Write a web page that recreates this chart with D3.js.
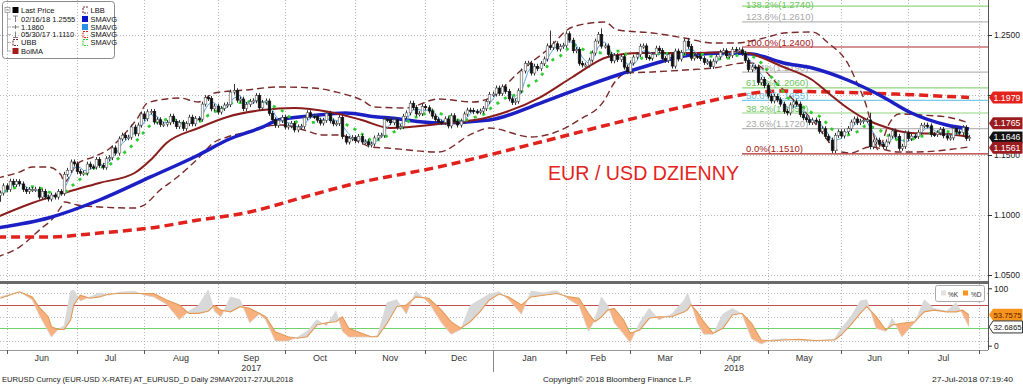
<!DOCTYPE html>
<html><head><meta charset="utf-8">
<script src="https://cdn.jsdelivr.net/npm/d3@7"></script>
<style>
html,body{margin:0;padding:0;background:#fff;}
svg{display:block;font-family:"Liberation Sans",Arial,sans-serif;}
</style></head><body>
<svg id="c" width="1023" height="384"></svg>
<script>
// ---------- DATA ----------
// daily closes, 29 May 2017 .. 27 Jul 2018 (weekdays)
const closes = [
 1.1163,1.1183,1.1243,
 1.1214,1.1281,1.1253,1.1278,1.1259,1.1213,1.1196,1.1212,1.1212,1.1215,1.1149,1.1197,1.1150,1.1133,1.1166,1.1150,1.1195,1.1181,1.1339,1.1372,1.1442,1.1426,
 1.1362,1.1348,1.1350,1.1424,1.1401,1.1400,1.1462,1.1414,1.1398,1.1469,1.1478,1.1559,1.1516,1.1634,1.1665,1.1644,1.1648,1.1733,1.1677,1.1749,1.1842,
 1.1802,1.1860,1.1863,1.1775,1.1794,1.1754,1.1757,1.1770,1.1823,1.1779,1.1737,1.1770,1.1722,1.1761,1.1815,1.1760,1.1803,1.1799,1.1924,1.1978,1.1971,1.1885,1.1907,
 1.1858,1.1888,1.1916,1.1920,1.2024,1.2036,1.1957,1.1966,1.1886,1.1921,1.1947,1.1952,1.1995,1.1893,1.1939,1.1950,1.1847,1.1794,1.1747,1.1787,1.1813,
 1.1733,1.1743,1.1763,1.1709,1.1733,1.1738,1.1810,1.1852,1.1823,1.1821,1.1790,1.1766,1.1789,1.1847,1.1785,1.1760,1.1762,1.1814,1.1653,1.1608,1.1637,1.1645,
 1.1619,1.1654,1.1608,1.1610,1.1584,1.1592,1.1642,1.1664,1.1664,1.1797,1.1794,1.1769,1.1793,1.1732,1.1736,1.1822,1.1851,1.1931,1.1895,1.1842,1.1845,1.1904,
 1.1894,1.1866,1.1824,1.1795,1.1775,1.1770,1.1801,1.1742,1.1827,1.1778,1.1750,1.1782,1.1841,1.1874,1.1872,1.1861,1.1860,1.1866,1.1887,1.1945,1.2005,
 1.2008,1.2058,1.2014,1.2068,1.2030,1.1968,1.1938,1.1948,1.2035,1.2200,1.2263,1.2264,1.2183,1.2239,1.2220,1.2262,1.2300,1.2409,1.2396,1.2427,1.2383,1.2405,1.2414,
 1.2510,1.2457,1.2369,1.2378,1.2264,1.2250,1.2250,1.2291,1.2350,1.2449,1.2505,1.2407,1.2409,1.2338,1.2285,1.2328,1.2295,1.2319,1.2232,1.2194,
 1.2266,1.2316,1.2337,1.2406,1.2409,1.2312,1.2307,1.2337,1.2390,1.2370,1.2303,1.2288,1.2336,1.2241,1.2366,1.2300,1.2353,1.2449,1.2405,1.2307,1.2324,1.2320,
 1.2303,1.2272,1.2276,1.2238,1.2282,1.2318,1.2356,1.2369,1.2327,1.2330,1.2380,1.2374,1.2376,1.2347,1.2288,1.2212,1.2234,1.2232,1.2104,1.2130,1.2078,
 1.1991,1.1951,1.1989,1.1960,1.1924,1.1864,1.1851,1.1917,1.1943,1.1925,1.1836,1.1810,1.1794,1.1771,1.1791,1.1781,1.1698,1.1719,1.1654,1.1624,1.1536,1.1663,1.1693,
 1.1659,1.1694,1.1720,1.1774,1.1800,1.1770,1.1781,1.1789,1.1792,1.1569,1.1609,1.1624,1.1589,1.1569,1.1609,1.1658,1.1700,1.1655,1.1555,1.1572,1.1684,
 1.1637,1.1657,1.1655,1.1689,1.1746,1.1749,1.1743,1.1672,1.1671,1.1685,1.1712,1.1660,1.1641,1.1643,1.1720,1.1692,1.1687,1.1728,1.1638,1.1646
];
// notable wicks (day index -> extreme)
const spikeIdx = [1, 74, 173, 189, 216, 273];
const spikeVal = [1.1110, 1.2092, 1.2537, 1.2555, 1.2476, 1.1852];

// moving averages / bands (day index, price)
const sma200Idx = [0,16,32,48,63,79,95,110,138,170,201,220,229,245,260,281,304];
const sma200Val = [1.0817,1.0817,1.0850,1.0892,1.0958,1.1025,1.1142,1.1250,1.1400,1.1608,1.1817,1.1933,1.1983,1.2033,1.2025,1.2008,1.1979];
const sma50Idx = [0,16,32,48,63,72,83,88,98,109,119,123,138,154,170,185,201,217,228,236,246,255,266,276,286,297,304];
const sma50Val = [1.0892,1.0975,1.1125,1.1317,1.1500,1.1625,1.1733,1.1792,1.1825,1.1850,1.1817,1.1808,1.1767,1.1792,1.1933,1.2083,1.2225,1.2333,1.2350,1.2342,1.2267,1.2225,1.2125,1.2000,1.1850,1.1750,1.1717];
const bolMaIdx = [0,11,22,32,43,48,53,63,72,83,93,104,114,123,138,154,170,180,191,201,217,232,246,255,260,266,271,276,286,297,304];
const bolMaVal = [1.0983,1.1100,1.1192,1.1267,1.1350,1.1458,1.1600,1.1725,1.1817,1.1875,1.1892,1.1858,1.1792,1.1725,1.1758,1.1817,1.1983,1.2150,1.2317,1.2350,1.2350,1.2358,1.2233,1.2125,1.2017,1.1892,1.1808,1.1750,1.1683,1.1675,1.1650];
const ubbIdx = [0,7,11,16,20,21,25,30,35,40,44,47,53,57,63,68,78,88,99,106,114,118,128,138,149,154,164,172,180,190,194,205,215,224,231,241,246,255,260,266,269,272,274,275.5,279,282,289,297,304];
const ubbVal = [1.1308,1.1358,1.1400,1.1400,1.1333,1.1275,1.1425,1.1483,1.1550,1.1680,1.1810,1.1933,1.1967,1.1975,1.1942,1.2017,1.2042,1.2067,1.2058,1.2025,1.1958,1.1900,1.1892,1.1967,1.1942,1.1975,1.2208,1.2375,1.2567,1.2608,1.2542,1.2517,1.2475,1.2433,1.2433,1.2483,1.2517,1.2525,1.2433,1.2267,1.2100,1.1900,1.1690,1.1545,1.1760,1.1842,1.1833,1.1817,1.1767];
const lbbIdx = [0,7,14,17,20,21,25,32,43,46,51,56,60,63,68,72,78,83,89,96,102,107,112,117,122,138,149,154,167,174,182,190,193,197,205,215,224,234,236,245,255,264,267,273,282,287,304];
const lbbVal = [1.0650,1.0733,1.0892,1.0958,1.1067,1.1108,1.1083,1.1067,1.1058,1.1083,1.1208,1.1308,1.1400,1.1475,1.1608,1.1650,1.1692,1.1733,1.1750,1.1708,1.1667,1.1667,1.1625,1.1567,1.1558,1.1525,1.1683,1.1725,1.1650,1.1683,1.1792,1.1958,1.2100,1.2183,1.2192,1.2208,1.2225,1.2267,1.2267,1.2067,1.1792,1.1525,1.1517,1.1567,1.1525,1.1525,1.1567];

// Fibonacci retracement
const fibPct = ["138.2%","123.6%","100.0%","76.4%","61.8%","50.0%","38.2%","23.6%","0.0%"];
const fibVal = [1.2740,1.2610,1.2400,1.2190,1.2060,1.1955,1.1850,1.1720,1.1510];
const fibStartIdx = 233;

// stochastic (day index, %K, %D)
const stochIdx = [1,7,11,13,16,17,19,21,23,24,26,29,32,35,38,43,46,49,53,57,60,63,66,68,70,73,76,79,82,84,87,91,94,97,100,103,106,108,110,114,117,119,122,125,128,131,135,139,142,145,148,151,154,157,160,164,167,171,175,179,182,185,187,189,191,193,196,198,201,204,207,211,215,216,217,219,221,224,227,230,233,236,239,242,246,251,256,262,264,267,270,272,275,278,280,283,287,290,293,297,300,302,304];
const stochD = [82.6,94,85,68,50.5,33,28.5,28.5,44.8,71,88,82.6,85,90,91,91,91,91,79.6,71,56.4,56.4,60,70,62,59,68,65,56.4,50.5,24.4,15.7,12.9,15.7,36,40,41.8,50.5,30.3,21.6,15.7,15.7,39,68,71,85,82.6,62,41.8,30.3,41.8,59,79.6,90,85,71,85,88,91,85,82.6,56,41.8,50,62,65,44.8,21.6,27.4,47.7,50.5,50.5,59,63,71,59,41.8,21.6,30.3,53.5,56.4,39,10,8.2,10,11,9,10,18.6,36,56.4,68,50.5,27.4,36,39,41.8,59,62,59,59,62,53.7575];
const stochK = [85,94,80,55,25,15,28,35,95,97,78,85,92,88,93,95,88,85,72,45,60,70,97,60,50,85,80,40,55,45,8,8,15,25,45,35,60,25,15,15,15,18,75,80,55,95,75,40,20,28,70,80,90,94,80,55,95,92,96,80,70,25,45,85,70,40,20,5,40,65,45,55,80,92,75,40,20,20,55,65,55,12,3,10,12,10,8,12,30,50,78,80,30,25,48,15,40,80,65,60,75,55,32.6865];
const stochLevels = [70, 30];
const stochGrid = [91, 49.5, 8];
const stochTicks = [0, 100];

// axes
const yTicks = [1.05,1.10,1.15,1.20,1.25];
const monthStarts = [3,25,46,69,90,112,134,155,178,198,220,241,264,285,307];
const monthNames = ["Jun","Jul","Aug","Sep","Oct","Nov","Dec","Jan","Feb","Mar","Apr","May","Jun","Jul"];
const yearNames = ["2017","2018"];
const yearMonthPos = [3,10];
const yearBreakIdx = 155;
const lastLabels = [1.1979,1.1765,1.1646,1.1561];

// ---------- LAYOUT ----------
const AX = 988, MAIN_B = 281, LOW_T = 284, LOW_B = 350;
const x = d3.scaleLinear().domain([0,304]).range([-2.9, -2.9 + 304*3.197]);
const y = d3.scaleLinear().domain([1.05,1.25]).range([275,35]);
const ys = d3.scaleLinear().domain([0,100]).range([345.7,288.3]);

const svg = d3.select("#c");
const defs = svg.append("defs");
defs.append("clipPath").attr("id","cm").append("rect").attr("x",0).attr("y",0).attr("width",AX).attr("height",MAIN_B);
defs.append("clipPath").attr("id","cl").append("rect").attr("x",0).attr("y",LOW_T).attr("width",AX).attr("height",LOW_B-LOW_T);

// grid
const grid = svg.append("g").attr("stroke","#b9b9b9").attr("stroke-dasharray","1,2").attr("stroke-width",1);
monthStarts.filter(m=>x(m)<AX).forEach(m=>{
  const xx = Math.round(x(m))+0.5;
  grid.append("line").attr("x1",xx).attr("x2",xx).attr("y1",0).attr("y2",MAIN_B);
  grid.append("line").attr("x1",xx).attr("x2",xx).attr("y1",LOW_T).attr("y2",LOW_B);
});
yTicks.forEach(v=>{
  const yy = Math.round(y(v))+0.5;
  grid.append("line").attr("x1",0).attr("x2",AX).attr("y1",yy).attr("y2",yy);
});
stochGrid.forEach(v=>{
  const yy = Math.round(ys(v))+0.5;
  grid.append("line").attr("x1",0).attr("x2",AX).attr("y1",yy).attr("y2",yy);
});

// main panel
const main = svg.append("g").attr("clip-path","url(#cm)");
const fibColor = ["#8fd67f","#b8b8b8","#b02a2a","#b8b8b8","#8fd67f","#7cc9e6","#8fd67f","#b8b8b8","#b02a2a"];
const fibText = ["#6cc45c","#a8a8a8","#a02020","#a8a8a8","#6cc45c","#66bbdd","#6cc45c","#a8a8a8","#a02020"];
fibVal.forEach((v,k)=>{
  main.append("line").attr("x1",x(fibStartIdx)).attr("x2",AX).attr("y1",y(v)).attr("y2",y(v))
    .attr("stroke",fibColor[k]).attr("stroke-width",1.2);
  main.append("text").attr("x",x(fibStartIdx)+4).attr("y",Math.max(7.5, y(v)-1.5)).attr("font-size",9.5)
    .attr("fill",fibText[k]).text(fibPct[k]+"("+v.toFixed(4)+")");
});

const lineIV = d3.line().x(d=>x(d[0])).y(d=>y(d[1])).curve(d3.curveMonotoneX);
const zip = (a,b)=>a.map((v,i)=>[v,b[i]]);

// bands
main.append("path").attr("d",lineIV(zip(ubbIdx,ubbVal))).attr("fill","none").attr("stroke","#7b2a2a").attr("stroke-width",1.4).attr("stroke-dasharray","7,4");
main.append("path").attr("d",lineIV(zip(lbbIdx,lbbVal))).attr("fill","none").attr("stroke","#7b2a2a").attr("stroke-width",1.4).attr("stroke-dasharray","7,4");
// 200 SMA
main.append("path").attr("d",lineIV(zip(sma200Idx,sma200Val))).attr("fill","none").attr("stroke","#e1221c").attr("stroke-width",3.5).attr("stroke-dasharray","9,5");
// 50 SMA
main.append("path").attr("d",lineIV(zip(sma50Idx,sma50Val))).attr("fill","none").attr("stroke","#1c1fc4").attr("stroke-width",3.5);
// Bol MA
main.append("path").attr("d",lineIV(zip(bolMaIdx,bolMaVal))).attr("fill","none").attr("stroke","#8b1c1c").attr("stroke-width",2);

// short SMAs from closes
function rolling(n){ return closes.map((c,i)=>[i, d3.mean(closes.slice(Math.max(0,i-n+1), i+1))]); }
main.append("path").attr("d",d3.line().x(d=>x(d[0])).y(d=>y(d[1])).curve(d3.curveMonotoneX)(rolling(10))).attr("fill","none").attr("stroke","#2ecc2e").attr("stroke-width",2.8).attr("stroke-dasharray","3,6");
main.append("path").attr("d",d3.line().x(d=>x(d[0])).y(d=>y(d[1]))(rolling(4))).attr("fill","none").attr("stroke","#5aaae6").attr("stroke-width",1);

// candles
const cg = main.append("g");
closes.forEach((c,i)=>{
  const o = i>0 ? closes[i-1] : c;
  const hi = Math.max(o,c), lo = Math.min(o,c);
  const k = spikeIdx.indexOf(i);
  let top = y(hi)-2.5, bot = y(lo)+2.5;
  if(k>=0){ const s=spikeVal[k]; if(s>hi) top=y(s); else bot=y(s); }
  const cx = Math.round(x(i))+0.5;
  cg.append("line").attr("x1",cx).attr("x2",cx).attr("y1",top).attr("y2",bot).attr("stroke","#333").attr("stroke-width",1);
  const h = Math.max(1.2, y(lo)-y(hi));
  cg.append("rect").attr("x",cx-1.3).attr("y",y(hi)).attr("width",2.6).attr("height",h)
    .attr("fill", c>=o ? "#ffffff" : "#111").attr("stroke", c>=o ? "#555" : "#111").attr("stroke-width",0.6);
});

// title
svg.append("text").attr("x",548).attr("y",180).attr("font-size",21).attr("fill","#e3241c")
  .attr("textLength",191).attr("lengthAdjust","spacingAndGlyphs").text("EUR / USD DZIENNY");

// separator
svg.append("rect").attr("x",0).attr("y",281).attr("width",AX).attr("height",3).attr("fill","#6a6a6a");

// lower panel
const low = svg.append("g").attr("clip-path","url(#cl)");
stochLevels.forEach((v,k)=>{
  low.append("line").attr("x1",0).attr("x2",AX).attr("y1",ys(v)).attr("y2",ys(v))
    .attr("stroke", k===0 ? "#c0504d" : "#6fd26f").attr("stroke-width",1.2);
});
const sdat = stochIdx.map((d,i)=>({i:d,k:stochK[i],d:stochD[i]}));
defs.append("clipPath").attr("id","cAbove").append("path")
  .attr("d", d3.area().x(d=>x(d.i)).y0(LOW_T).y1(d=>ys(d.d))(sdat));
defs.append("clipPath").attr("id","cBelow").append("path")
  .attr("d", d3.area().x(d=>x(d.i)).y0(LOW_B).y1(d=>ys(d.d))(sdat));
const between = d3.area().x(d=>x(d.i)).y0(d=>ys(d.k)).y1(d=>ys(d.d));
low.append("g").attr("clip-path","url(#cAbove)").append("path").attr("d",between(sdat)).attr("fill","#d8d8d8");
low.append("g").attr("clip-path","url(#cBelow)").append("path").attr("d",between(sdat)).attr("fill","#f8b07e");
low.append("path").attr("d",d3.line().x(d=>x(d.i)).y(d=>ys(d.k))(sdat)).attr("fill","none").attr("stroke","#d4d4d4").attr("stroke-width",0.7);
low.append("path").attr("d",d3.line().x(d=>x(d.i)).y(d=>ys(d.d))(sdat)).attr("fill","none").attr("stroke","#e39a55").attr("stroke-width",1.1);

// lower legend
const lg2 = svg.append("g");
lg2.append("rect").attr("x",935.5).attr("y",285.5).attr("width",49).attr("height",16).attr("rx",2).attr("fill","#fff").attr("stroke","#aaa");
lg2.append("rect").attr("x",941).attr("y",290.5).attr("width",5).attr("height",5).attr("fill","#e2e2e2");
lg2.append("text").attr("x",948).attr("y",296.5).attr("font-size",6.5).attr("fill","#333").text("%K");
lg2.append("rect").attr("x",963).attr("y",290.5).attr("width",5).attr("height",5).attr("fill","#f7941d");
lg2.append("text").attr("x",971).attr("y",296.5).attr("font-size",6.5).attr("fill","#333").text("%D");

// right axes
svg.append("line").attr("x1",AX+0.5).attr("x2",AX+0.5).attr("y1",0).attr("y2",LOW_B).attr("stroke","#555").attr("stroke-width",1);
const ya = svg.append("g").attr("transform",`translate(${AX},0)`)
  .call(d3.axisRight(y).tickValues(yTicks).tickFormat(d3.format(".4f")).tickSize(4).tickPadding(2));
ya.select(".domain").remove();
ya.selectAll("text").attr("font-size",8.5).attr("fill","#222").attr("font-family","Liberation Sans, Arial, sans-serif");
ya.selectAll("line").attr("stroke","#333");
const ya2 = svg.append("g").attr("transform",`translate(${AX},0)`)
  .call(d3.axisRight(ys).tickValues(stochTicks).tickFormat(d3.format("d")).tickSize(4).tickPadding(2));
ya2.select(".domain").remove();
ya2.selectAll("text").attr("font-size",8.5).attr("fill","#222").attr("font-family","Liberation Sans, Arial, sans-serif");
ya2.selectAll("line").attr("stroke","#333");

// last-value labels
function tag(yy, txt, fill, stroke, tc, fs, tl){
  const gg = svg.append("g");
  gg.append("path").attr("d",`M${AX+1},${yy} L${AX+5},${yy-6} L1022.5,${yy-6} L1022.5,${yy+6} L${AX+5},${yy+6} Z`)
    .attr("fill",fill).attr("stroke",stroke).attr("stroke-width",stroke==="none"?0:1);
  gg.append("text").attr("x",AX+5.5).attr("y",yy+3).attr("font-size",fs).attr("fill",tc)
    .attr("textLength",tl).attr("lengthAdjust","spacingAndGlyphs").text(txt);
}
const tagFill = ["#e3221c","#9b1c1f","#111111","#9b1c1f"];
lastLabels.forEach((v,k)=>tag(y(v), v.toFixed(4), tagFill[k], "none", "#fff", 8.5, 27));
tag(ys(stochD[stochD.length-1]), stochD[stochD.length-1].toFixed(4), "#f7941d", "none", "#5a1a00", 7.6, 28);
tag(ys(stochK[stochK.length-1]), stochK[stochK.length-1].toFixed(4), "#ffffff", "#333", "#111", 7.6, 28);

// x axis
const xa = svg.append("g");
xa.append("line").attr("x1",0).attr("x2",AX).attr("y1",LOW_B+0.5).attr("y2",LOW_B+0.5).attr("stroke","#999");
monthStarts.forEach(m=>{
  if(x(m)>AX) return;
  const xx = Math.round(x(m))+0.5;
  xa.append("line").attr("x1",xx).attr("x2",xx).attr("y1",LOW_B).attr("y2",LOW_B+4).attr("stroke","#555");
});
{
  const xx = Math.round(x(yearBreakIdx))+0.5;
  xa.append("line").attr("x1",xx).attr("x2",xx).attr("y1",LOW_B).attr("y2",LOW_B+22).attr("stroke","#888");
}
monthNames.forEach((n,k)=>{
  const cx = (x(monthStarts[k])+x(monthStarts[k+1]))/2;
  xa.append("text").attr("x",cx).attr("y",361).attr("text-anchor","middle").attr("font-size",9).attr("fill","#333").text(n);
});
yearNames.forEach((n,k)=>{
  const m = yearMonthPos[k];
  const cx = (x(monthStarts[m])+x(monthStarts[m+1]))/2;
  xa.append("text").attr("x",cx).attr("y",371).attr("text-anchor","middle").attr("font-size",9).attr("fill","#333").text(n);
});

// footer
svg.append("text").attr("x",2).attr("y",381.5).attr("font-size",8).attr("fill","#222")
  .attr("textLength",291).attr("lengthAdjust","spacingAndGlyphs")
  .text("EURUSD Curncy (EUR-USD X-RATE) AT_EURUSD_D  Daily 29MAY2017-27JUL2018");
svg.append("text").attr("x",543).attr("y",381.5).attr("font-size",8).attr("fill","#222")
  .attr("textLength",149).attr("lengthAdjust","spacingAndGlyphs").text("Copyright\u00A9 2018 Bloomberg Finance L.P.");
svg.append("text").attr("x",932).attr("y",381.5).attr("font-size",8).attr("fill","#222")
  .attr("textLength",81).attr("lengthAdjust","spacingAndGlyphs").text("27-Jul-2018 07:19:40");

// top-left legend
const lg = svg.append("g").attr("font-size",7.5).attr("fill","#111");
lg.append("rect").attr("x",2.5).attr("y",1.5).attr("width",112).attr("height",57).attr("rx",3)
  .attr("fill","none").attr("stroke","#8a8a8a").attr("stroke-width",1);
const rows = [10,19,27,34.5,42.5,51];
const leftTxt = ["Last Price","02/16/18 1.2555","1.1860","05/30/17 1.1110","UBB","BolMA"];
const rightTxt = ["LBB","SMAVG","SMAVG","SMAVG","SMAVG"];
leftTxt.forEach((t,k)=>lg.append("text").attr("x",21).attr("y",rows[k]+2.7).text(t));
rightTxt.forEach((t,k)=>lg.append("text").attr("x",90.5).attr("y",rows[k]+2.7).text(t));
// tree
lg.append("rect").attr("x",5).attr("y",rows[0]-2.5).attr("width",5).attr("height",5).attr("fill","none").attr("stroke","#888").attr("stroke-width",0.7);
lg.append("line").attr("x1",6).attr("x2",9).attr("y1",rows[0]).attr("y2",rows[0]).attr("stroke","#666").attr("stroke-width",0.7);
lg.append("line").attr("x1",7.5).attr("x2",7.5).attr("y1",rows[0]+2.5).attr("y2",rows[5]).attr("stroke","#999").attr("stroke-width",0.7);
rows.slice(1).forEach(r=>lg.append("line").attr("x1",7.5).attr("x2",11).attr("y1",r).attr("y2",r).attr("stroke","#999").attr("stroke-width",0.7));
lg.append("rect").attr("x",12.5).attr("y",rows[0]-3).attr("width",6).attr("height",6).attr("fill","#000");
lg.append("path").attr("d",`M13,${rows[1]-3} H18 M15.5,${rows[1]-3} V${rows[1]+3}`).attr("stroke","#666").attr("fill","none").attr("stroke-width",0.8);
lg.append("path").attr("d",`M12,${rows[2]} H19 M15.5,${rows[2]-2} V${rows[2]+2}`).attr("stroke","#666").attr("fill","none").attr("stroke-width",0.8);
lg.append("path").attr("d",`M13,${rows[3]+3} H18 M15.5,${rows[3]-3} V${rows[3]+3}`).attr("stroke","#666").attr("fill","none").attr("stroke-width",0.8);
function bracket(cx, r, col, dash){
  lg.append("path").attr("d",`M${cx+3},${r-3} H${cx-2} V${r+3} H${cx+3}`).attr("fill","none").attr("stroke",col).attr("stroke-width",1.1).attr("stroke-dasharray",dash);
}
bracket(15, rows[4], "#7b2a2a", "2,1");
lg.append("rect").attr("x",12.5).attr("y",rows[5]-3).attr("width",6).attr("height",6).attr("fill","#a51c1c");
bracket(85, rows[0], "#7b2a2a", "2,1");
lg.append("rect").attr("x",82).attr("y",rows[1]-3).attr("width",6).attr("height",6).attr("fill","#0a14c8");
lg.append("rect").attr("x",82).attr("y",rows[2]-3).attr("width",6).attr("height",6).attr("fill","#2b8fe8");
bracket(85, rows[3], "#e1221c", "2,1");
bracket(85, rows[4], "#2ecc2e", "2,1");
</script>
</body></html>
